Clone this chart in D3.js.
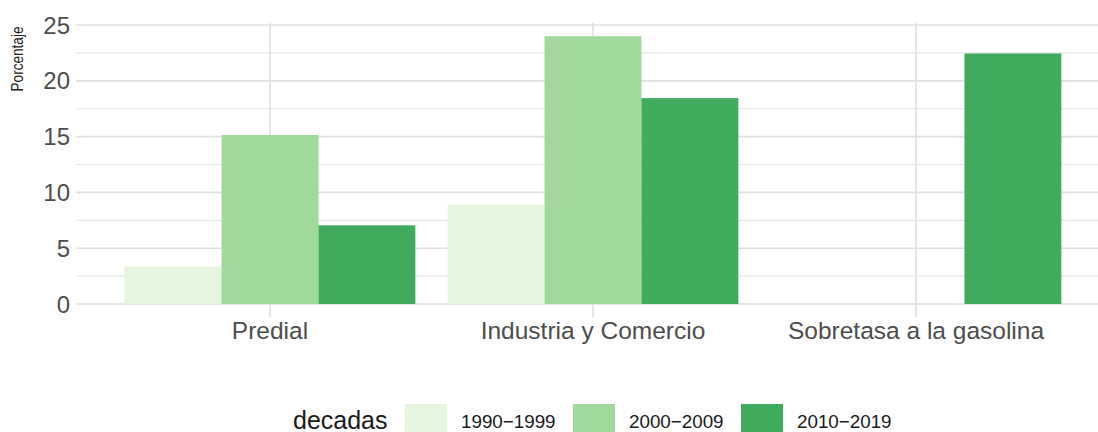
<!DOCTYPE html>
<head>
    <script src="https://d3js.org/d3.v7.min.js"></script>
    <style>
        body { margin: 0; background: #fff; }
        text { font-family: "Liberation Sans", Arial, sans-serif; }
    </style>
</head>

<body>
    <div id="chart"></div>
</body>

<script>
    // data
    const impuestos = ["Predial", "Industria y Comercio", "Sobretasa a la gasolina"];
    const decadas = ["1990-1999", "2000-2009", "2010-2019"];
    const v1990 = [3.35, 8.9, 0];
    const v2000 = [15.15, 24.0, 0];
    const v2010 = [7.05, 18.45, 22.45];
    const yTicks = [0, 5, 10, 15, 20, 25];
    const colores = ["#e5f5e0", "#a1d99b", "#41ab5d"];

    const series = [v1990, v2000, v2010];
    const rows = [];
    impuestos.forEach((imp, i) => {
        decadas.forEach((dec, j) => {
            rows.push({imp: imp, dec: dec, val: series[j][i]});
        });
    });

    const W = 1098, H = 432;
    const panel = {left: 76.2, right: 1109.8, top: 22.8, bottom: 317.4};

    const svg = d3.select("#chart").append("svg")
        .attr("width", W)
        .attr("height", H);

    // scales (ggplot-like expansion)
    const x = d3.scaleBand()
        .domain(impuestos)
        .range([panel.left, panel.right])
        .paddingInner(0)
        .paddingOuter(0.1);

    const bw = x.bandwidth();
    const xSub = d3.scaleBand()
        .domain(decadas)
        .range([0.05 * bw, 0.95 * bw]);

    const y = d3.scaleLinear()
        .domain([-1.2, 25.2])
        .range([panel.bottom, panel.top]);

    const color = d3.scaleOrdinal().domain(decadas).range(colores);

    const grid = svg.append("g");

    // minor horizontal gridlines
    const minor = d3.range(2.5, 25, 5);
    grid.selectAll(".minor")
        .data(minor)
        .join("line")
        .attr("x1", panel.left).attr("x2", W)
        .attr("y1", d => y(d)).attr("y2", d => y(d))
        .attr("stroke", "#e6e6e6")
        .attr("stroke-width", 1.2);

    // major horizontal gridlines
    grid.selectAll(".major")
        .data(yTicks)
        .join("line")
        .attr("x1", panel.left).attr("x2", W)
        .attr("y1", d => y(d)).attr("y2", d => y(d))
        .attr("stroke", "#e0e0e0")
        .attr("stroke-width", 1.6);

    // vertical gridlines
    grid.selectAll(".vx")
        .data(impuestos)
        .join("line")
        .attr("x1", d => x(d) + bw / 2).attr("x2", d => x(d) + bw / 2)
        .attr("y1", panel.top).attr("y2", panel.bottom)
        .attr("stroke", "#e0e0e0")
        .attr("stroke-width", 1.6);

    // bars
    svg.append("g")
        .selectAll("rect")
        .data(rows.filter(d => d.val > 0))
        .join("rect")
        .attr("x", d => x(d.imp) + xSub(d.dec))
        .attr("y", d => y(d.val))
        .attr("width", xSub.bandwidth())
        .attr("height", d => y(0) - y(d.val))
        .attr("fill", d => color(d.dec));

    // y axis labels
    svg.append("g")
        .selectAll("text")
        .data(yTicks)
        .join("text")
        .attr("x", 70)
        .attr("y", d => y(d))
        .attr("dy", "0.36em")
        .attr("text-anchor", "end")
        .attr("font-size", 24)
        .attr("fill", "#4d4d4d")
        .text(d => d);

    // x axis labels
    svg.append("g")
        .selectAll("text")
        .data(impuestos)
        .join("text")
        .attr("x", d => x(d) + bw / 2)
        .attr("y", 339)
        .attr("text-anchor", "middle")
        .attr("font-size", 24.5)
        .attr("fill", "#4d4d4d")
        .text(d => d);

    // y title
    svg.append("text")
        .attr("transform", "translate(23,59) rotate(-90) scale(0.8,1)")
        .attr("text-anchor", "middle")
        .attr("font-size", 17)
        .attr("fill", "#1a1a1a")
        .text("Porcentaje");

    // legend
    const leg = svg.append("g");
    leg.append("text")
        .attr("x", 293)
        .attr("y", 429)
        .attr("font-size", 25)
        .attr("fill", "#1a1a1a")
        .text("decadas");

    const keyX = [405, 573, 741];
    decadas.forEach((d, i) => {
        leg.append("rect")
            .attr("x", keyX[i])
            .attr("y", 404)
            .attr("width", 42)
            .attr("height", 30)
            .attr("fill", color(d));
        leg.append("text")
            .attr("x", keyX[i] + 56)
            .attr("y", 428)
            .attr("font-size", 18.8)
            .attr("fill", "#1a1a1a")
            .text(d.replace("-", "\u2212"));
    });
</script>
</html>
